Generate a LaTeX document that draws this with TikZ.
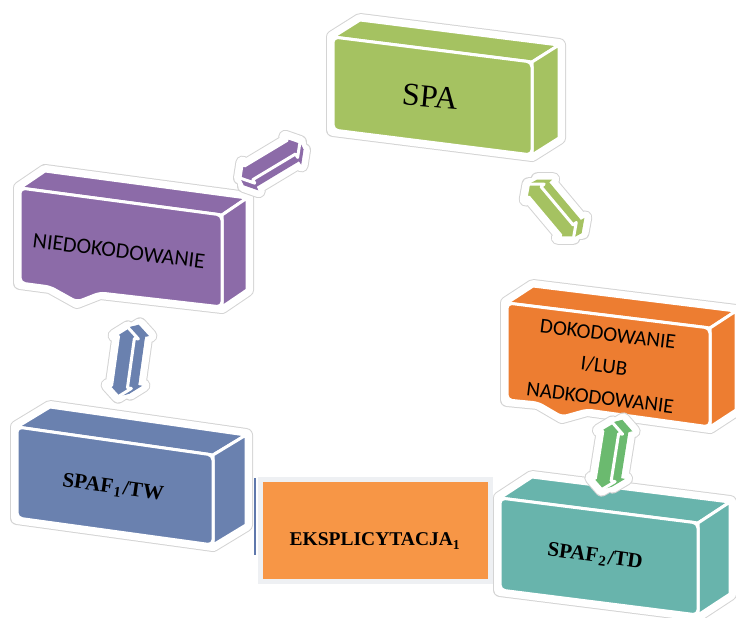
\documentclass[tikz,border=0pt]{standalone}
\usepackage{fontspec}
\setmainfont{Liberation Serif}
\newfontfamily\calibrifont{Carlito}
\definecolor{spagreen}{HTML}{A5C261}
\definecolor{niedopurple}{HTML}{8C6BA8}
\definecolor{dokoorange}{HTML}{ED7D31}
\definecolor{spafblue}{HTML}{6A81AF}
\definecolor{spafteal}{HTML}{68B4AC}
\definecolor{arrgreen}{HTML}{6BBA6F}
\definecolor{eksporange}{HTML}{F79646}
\definecolor{haloline}{HTML}{D4D4D4}
\definecolor{eksframe}{HTML}{EEF0F3}
\definecolor{eksline}{HTML}{5F78AC}
\tikzset{
  halo/.style={draw=haloline, line width=14pt, line join=round},
  haloin/.style={draw=white, line width=12pt, line join=round},
  face/.style={draw=white, line width=3pt, line join=round},
  boxtext/.style={text=black, inner sep=0pt},
}
% 3D box: colour, front face, top face, right face
\newcommand\tdbox[4]{%
  \path[halo] #2 #3 #4;
  \path[haloin] #2 #3 #4;
  \path[face, fill=#1] #3;
  \path[face, fill=#1] #4;
  \path[face, fill=#1, rounded corners=5pt] #2;
}
\newcommand\arrowshape[1]{({-#1},0) -- ({-#1+10},-12) -- ({-#1+10},-8) -- ({#1-10},-8) -- ({#1-10},-12) -- ({#1},0) -- ({#1-10},12) -- ({#1-10},8) -- ({-#1+10},8) -- ({-#1+10},12) -- cycle}
% 3D double arrow: colour, cx, cy, angle, half length, depth x, depth y
\newcommand\tdarrow[7]{%
  \foreach \t in {1,0}{\begin{scope}[shift={({#2+\t*#6},{#3+\t*#7})},rotate=#4]\path[halo] \arrowshape{#5};\end{scope}}
  \foreach \t in {1,0}{\begin{scope}[shift={({#2+\t*#6},{#3+\t*#7})},rotate=#4]\path[haloin] \arrowshape{#5};\end{scope}}
  \begin{scope}[shift={({#2+#6},{#3+#7})},rotate=#4]\path[face,fill=#1] \arrowshape{#5};\end{scope}
  \foreach \t in {0.9,0.8,0.7,0.6,0.5,0.4,0.3,0.2,0.1}{\begin{scope}[shift={({#2+\t*#6},{#3+\t*#7})},rotate=#4]\path[fill=#1] \arrowshape{#5};\end{scope}}
  \begin{scope}[shift={(#2,#3)},rotate=#4]\path[face,fill=#1] \arrowshape{#5};\end{scope}
}
\begin{document}
\begin{tikzpicture}[x=1pt,y=-1pt]
\useasboundingbox (0,0) rectangle (736,618);

% SPA
\tdbox{spagreen}
  {(333,37) -- (532,62) -- (532,155) -- (333,130) -- cycle}
  {(333,37) -- (360,20) -- (559,45) -- (532,62) -- cycle}
  {(532,62) -- (559,45) -- (559,138) -- (532,155) -- cycle}
% NIEDOKODOWANIE
\tdbox{niedopurple}
  {(20,188) -- (222,215) -- (222,307) -- (100,293) -- (77,302) -- (50,287) -- (20,283) -- cycle}
  {(20,188) -- (45,171) -- (247,198) -- (222,215) -- cycle}
  {(222,215) -- (247,198) -- (247,290) -- (222,307) -- cycle}
% DOKODOWANIE
\tdbox{dokoorange}
  {(507,303) -- (710,328) -- (710,427) -- (587,410) -- (562,417) -- (538,403) -- (507,400) -- cycle}
  {(507,303) -- (533,286) -- (736,311) -- (710,328) -- cycle}
  {(710,328) -- (736,311) -- (736,410) -- (710,427) -- cycle}
% SPAF1/TW
\tdbox{spafblue}
  {(17,427) -- (213,455) -- (213,545) -- (17,518) -- cycle}
  {(17,427) -- (50,407) -- (246,435) -- (213,455) -- cycle}
  {(213,455) -- (246,435) -- (246,525) -- (213,545) -- cycle}
% SPAF2/TD
\tdbox{spafteal}
  {(500,498) -- (698,523) -- (698,615) -- (500,590) -- cycle}
  {(500,498) -- (532,477) -- (730,502) -- (698,523) -- cycle}
  {(698,523) -- (730,502) -- (730,594) -- (698,615) -- cycle}

% arrows
\tdarrow{niedopurple}{270}{160}{31}{35}{4}{8}
\tdarrow{spagreen}{551}{211}{-50}{35}{9}{-5}
\tdarrow{spafblue}{123}{362}{82}{35}{12}{-3}
\tdarrow{arrgreen}{607}{456}{81}{34}{11}{-3}

% EKSPLICYTACJA
\draw[eksline, line width=2pt] (255,478) -- (255,555);
\node[draw=eksframe, line width=5pt, fill=eksporange, minimum width=230.5pt, minimum height=102.5pt, inner sep=0pt] (eksp) at (375.25,530.25) {};
\node[boxtext, font=\bfseries\fontsize{19.5}{19.5}\selectfont] (eksptext) at (375,541) {EKSPLICYTACJA\textsubscript{1}};

% labels
\node[boxtext, font=\fontsize{32}{32}\selectfont, rotate=-5] (spa) at (430,97) {SPA};
\node[boxtext, font=\calibrifont\fontsize{22}{22}\selectfont, rotate=-7] (niedo) at (119,251) {NIEDOKODOWANIE};
\node[boxtext, font=\calibrifont\fontsize{21}{32}\selectfont, align=center, rotate=-7] (doko) at (604,366) {DOKODOWANIE\\I/LUB\\NADKODOWANIE};
\node[boxtext, font=\bfseries\fontsize{21}{21}\selectfont, rotate=-8] (spaf1) at (113,488) {SPAF\kern1pt\textsubscript{1}\kern1pt/TW};
\node[boxtext, font=\bfseries\fontsize{21}{21}\selectfont, rotate=-8] (spaf2) at (595,557) {SPAF\kern1pt\textsubscript{2}\kern1pt/TD};
\end{tikzpicture}
\end{document}
